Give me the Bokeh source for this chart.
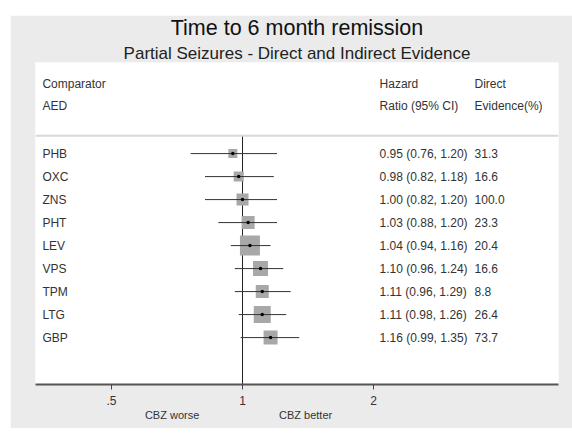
import numpy as np
from bokeh.plotting import figure
from bokeh.models import (Range1d, Title, Span, FixedTicker, LogAxis,
                          CustomJSTickFormatter, ColumnDataSource)
from bokeh.core.properties import value
from bokeh.embed import file_html
from bokeh.resources import INLINE

# ---- data ----
drugs = ["PHB", "OXC", "ZNS", "PHT", "LEV", "VPS", "TPM", "LTG", "GBP"]
hr = [0.95, 0.98, 1.00, 1.03, 1.04, 1.10, 1.11, 1.11, 1.16]
lo = [0.76, 0.82, 0.82, 0.88, 0.94, 0.96, 0.96, 0.98, 0.99]
hi = [1.20, 1.18, 1.20, 1.20, 1.16, 1.24, 1.29, 1.26, 1.35]
direct_pct = [31.3, 16.6, 100.0, 23.3, 20.4, 16.6, 8.8, 26.4, 73.7]
box_weight = [8.1, 10.0, 14.4, 16.9, 40.0, 22.5, 16.9, 28.9, 19.6]
tick_vals = [0.5, 1, 2]
tick_labels = [".5", "1", "2"]
dir_labels = ["CBZ worse", "CBZ better"]
header_left = ["Comparator", "AED"]
header_hr = ["Hazard", "Ratio (95% CI)"]
header_dir = ["Direct", "Evidence(%)"]
title_main = "Time to 6 month remission"
title_sub = "Partial Seizures - Direct and Indirect Evidence"

FONT = "Liberation Sans"
TXT = "#333333"
GREY_BG = "#ebebeb"

n = len(drugs)
ys = [-i for i in range(n)]
hr_text = [f"{h:.2f} ({l:.2f}, {u:.2f})" for h, l, u in zip(hr, lo, hi)]
dir_text = [f"{d:.1f}" for d in direct_pct]
box_size = [3.16 * np.sqrt(w) for w in box_weight]

src = ColumnDataSource(dict(drug=drugs, hr=hr, lo=lo, hi=hi, y=ys,
                            hrt=hr_text, dt=dir_text, size=box_size))

x_lo, x_hi = 0.3345, 5.32
y_bot, y_top = -10.04, 3.96
sep_y = 0.78

p = figure(width=562, height=413, x_axis_type="log",
           x_range=Range1d(x_lo, x_hi), y_range=Range1d(y_bot, y_top),
           output_backend="svg", toolbar_location=None,
           min_border_left=25, min_border_right=14, min_border_top=0,
           min_border_bottom=44, margin=(15, 0, 0, 10))
p.border_fill_color = GREY_BG
p.background_fill_color = "white"
p.outline_line_color = None
p.grid.visible = False
p.yaxis.visible = False

# titles (subtitle first so it sits nearest the plot)
p.add_layout(Title(text=title_sub, align="center", text_font=FONT,
                   text_font_size="17px", text_font_style="normal",
                   text_color="#222222", standoff=0, offset=0,
                   text_line_height=1.0), "above")
p.add_layout(Title(text=title_main, align="center", text_font=FONT,
                   text_font_size="21.5px", text_font_style="normal",
                   text_color="#111111", standoff=0, offset=0,
                   text_line_height=1.0, vertical_align="top"), "above")

# main x axis
ax = p.xaxis[0]
ax.ticker = FixedTicker(ticks=tick_vals)
ax.formatter = CustomJSTickFormatter(args=dict(tvals=tick_vals, tlabs=tick_labels),
    code="const i = tvals.findIndex(t => Math.abs(t - tick) < 1e-9); return i >= 0 ? tlabs[i] : '';")
ax.axis_line_color = "#555555"
ax.axis_line_width = 2
ax.major_tick_line_color = "#444444"
ax.major_tick_in = 0
ax.major_tick_out = 5
ax.minor_tick_line_color = None
ax.major_label_text_font = FONT
ax.major_label_text_font_size = "12px"
ax.major_label_text_color = TXT
ax.major_label_standoff = 6

# direction labels axis
ax2 = LogAxis(ticker=FixedTicker(ticks=[0.689, 1.396]),
              formatter=CustomJSTickFormatter(args=dict(dlabs=dir_labels),
                                              code="return tick < 1 ? dlabs[0] : dlabs[1];"))
ax2.axis_line_color = None
ax2.major_tick_line_color = None
ax2.minor_tick_line_color = None
ax2.major_tick_in = 0
ax2.major_tick_out = 0
ax2.major_label_standoff = 1
ax2.major_label_text_font = FONT
ax2.major_label_text_font_size = "11px"
ax2.major_label_text_color = TXT
p.add_layout(ax2, "below")

# separator line
p.add_layout(Span(location=sep_y, dimension="width", line_color="#d9d9d9", line_width=2))

# reference line at HR = 1
p.segment(x0=[1], x1=[1], y0=[sep_y], y1=[y_bot], line_color="#222222", line_width=1)

# boxes, CIs, points
p.scatter("hr", "y", source=src, marker="square", size="size",
          fill_color="#a8a8a8", line_color=None)
p.segment(x0="lo", x1="hi", y0="y", y1="y", source=src, line_color="#333333", line_width=1)
p.scatter("hr", "y", source=src, marker="circle", size=3.5,
          fill_color="black", line_color=None)

# text columns
lab_x, hr_x, dir_x = 0.347, 2.0645, 3.412
tkw = dict(text_font=value(FONT), text_font_size="12px", text_color=TXT,
           text_baseline="middle", text_align="left")
p.text(x=lab_x, y="y", text="drug", source=src, **tkw)
p.text(x=hr_x, y="y", text="hrt", source=src, **tkw)
p.text(x=dir_x, y="y", text="dt", source=src, **tkw)

hy = [3.04, 2.09]
p.text(x=[lab_x] * 2, y=hy, text=header_left, **tkw)
p.text(x=[hr_x] * 2, y=hy, text=header_hr, **tkw)
p.text(x=[dir_x] * 2, y=hy, text=header_dir, **tkw)

open("out.html", "w").write(file_html(p, INLINE))
